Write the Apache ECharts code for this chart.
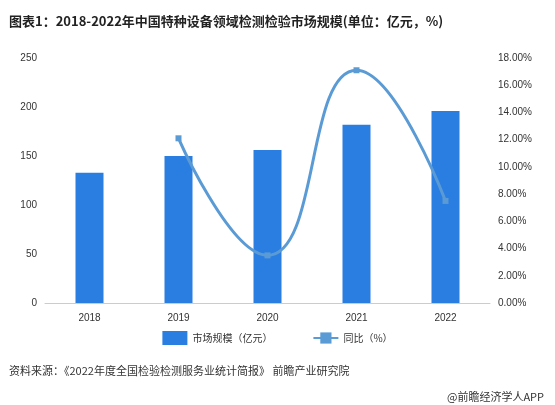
<!DOCTYPE html>
<html><head><meta charset="utf-8">
<script src="https://cdn.jsdelivr.net/npm/echarts@6/dist/echarts.min.js"></script>
<style>body{margin:0;background:#fff}#c{width:555px;height:405px}</style>
</head><body><div id="c"></div>
<script>
var years = ['2018', '2019', '2020', '2021', '2022'];
var scale = [133, 150, 156, 182, 196];
var growth = [null, 12.1, 3.5, 17.1, 7.5];
var leftTicks = [0, 250, 50];
var rightTicks = [0, 18, 2];

var chart = echarts.init(document.getElementById('c'));
chart.setOption({
  title: [{
    text: '图表1：2018-2022年中国特种设备领域检测检验市场规模(单位：亿元，%)',
    left: 4, top: 10,
    textStyle: {fontSize: 13, fontWeight: 'bold', color: '#222', fontFamily: 'Noto Sans CJK SC'}
  }, {
    text: '资料来源：《2022年度全国检验检测服务业统计简报》 前瞻产业研究院',
    left: 4, top: 360,
    textStyle: {fontSize: 11, fontWeight: 'normal', color: '#333', fontFamily: 'Noto Sans CJK SC'}
  }, {
    text: '@前瞻经济学人APP',
    right: 6, top: 386,
    textStyle: {fontSize: 11, fontWeight: 'normal', color: '#333', fontFamily: 'Noto Sans CJK SC'}
  }],
  legend: {
    bottom: 55, left: 'center', itemGap: 40,
    textStyle: {fontSize: 10, color: '#333', fontFamily: 'Noto Sans CJK SC'},
    data: [{name: '市场规模（亿元）', icon: 'rect'}, {name: '同比（%）'}]
  },
  grid: {left: 45, right: 65, top: 58, bottom: 102},
  xAxis: {
    type: 'category', data: years,
    axisTick: {show: false},
    axisLine: {lineStyle: {color: '#ccc'}},
    axisLabel: {color: '#333', fontSize: 10, margin: 10}
  },
  yAxis: [{
    type: 'value', min: leftTicks[0], max: leftTicks[1], interval: leftTicks[2],
    axisLine: {show: false}, axisTick: {show: false},
    splitLine: {show: false},
    axisLabel: {color: '#333', fontSize: 10}
  }, {
    type: 'value', min: rightTicks[0], max: rightTicks[1], interval: rightTicks[2],
    axisLine: {show: false}, axisTick: {show: false},
    splitLine: {show: false},
    axisLabel: {color: '#333', fontSize: 10, formatter: function (v) { return v.toFixed(2) + '%'; }}
  }],
  series: [{
    name: '市场规模（亿元）', type: 'bar', barWidth: 28,
    itemStyle: {color: '#2a7de1'},
    data: scale
  }, {
    name: '同比（%）', type: 'line', yAxisIndex: 1, smooth: 0.5,
    symbol: 'rect', symbolSize: 6,
    lineStyle: {color: '#5b9bd5', width: 3},
    itemStyle: {color: '#5b9bd5'},
    data: growth
  }]
});
</script></body></html>
